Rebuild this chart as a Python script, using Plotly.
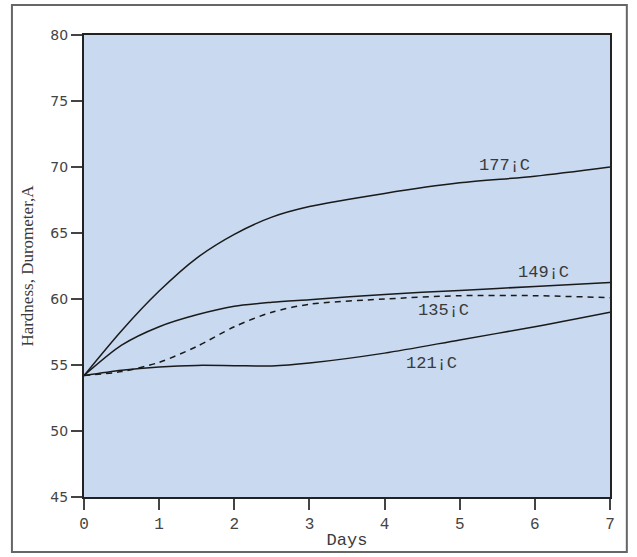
import plotly.graph_objects as go

# Cure time in days and hardness readings for each oven temperature
days = [0, 0.5, 1, 1.5, 2, 2.5, 3, 4, 5, 6, 7]
hard_177 = [54.2, 57.6, 60.6, 63.1, 64.9, 66.2, 67.0, 68.0, 68.8, 69.3, 70.0]
hard_149 = [54.2, 56.5, 57.9, 58.8, 59.45, 59.75, 59.95, 60.35, 60.65, 60.95, 61.25]
hard_135 = [54.2, 54.5, 55.2, 56.4, 57.9, 59.0, 59.6, 60.0, 60.25, 60.25, 60.1]
hard_121 = [54.2, 54.6, 54.85, 54.97, 54.95, 54.93, 55.15, 55.9, 56.9, 57.9, 59.0]

series = [
    ("177¡C", hard_177, "solid"),
    ("149¡C", hard_149, "solid"),
    ("135¡C", hard_135, "dash"),
    ("121¡C", hard_121, "solid"),
]

# Label anchor positions (day, hardness)
label_x = [5.6, 6.11, 4.78, 4.63]
label_y = [70.1, 62.0, 59.15, 55.15]

x_ticks = [0, 1, 2, 3, 4, 5, 6, 7]
y_ticks = [45, 50, 55, 60, 65, 70, 75, 80]

mono = "Courier New, Liberation Mono, monospace"

fig = go.Figure()
for name, vals, dash in series:
    fig.add_trace(go.Scatter(
        x=days, y=vals, mode="lines", name=name,
        line=dict(color="#1a1a1a", width=1.5, dash="6px,5px" if dash == "dash" else "solid",
                  shape="spline", smoothing=0.8),
        showlegend=False,
    ))

for (name, _, _), lx, ly in zip(series, label_x, label_y):
    fig.add_annotation(x=lx, y=ly, text=name, showarrow=False,
                       font=dict(family=mono, size=17, color="#3a3a3a"))

fig.update_layout(
    width=637, height=557,
    margin=dict(l=84, r=27, t=35, b=60),
    paper_bgcolor="white",
    plot_bgcolor="#c8d9f0",
    xaxis=dict(
        range=[0, 7], tickvals=x_ticks, showgrid=False, zeroline=False,
        showline=True, linecolor="#222222", linewidth=2, mirror=True,
        ticks="outside", ticklen=11, tickwidth=1.5, tickcolor="#444444",
        tickfont=dict(family=mono, size=16, color="#444444"),
        title=dict(text="Days", standoff=0,
                   font=dict(family=mono, size=17, color="#3a3a3a")),
    ),
    yaxis=dict(
        range=[45, 80], tickvals=y_ticks, showgrid=False, zeroline=False,
        showline=True, linecolor="#222222", linewidth=2, mirror=True,
        ticks="outside", ticklen=11, tickwidth=1.5, tickcolor="#444444",
        tickfont=dict(family="DejaVu Sans, sans-serif", size=14, color="#444444"),
        title=dict(text="Hardness, Durometer,A", standoff=12,
                   font=dict(family="Liberation Serif, Times New Roman, serif", size=17, color="#3a3a3a")),
    ),
    shapes=[dict(type="rect", xref="paper", yref="paper",
                 x0=-0.137, x1=1.032, y0=-0.119, y1=1.065,
                 line=dict(color="#666666", width=2), layer="below")],
)

fig.write_html("out.html")
